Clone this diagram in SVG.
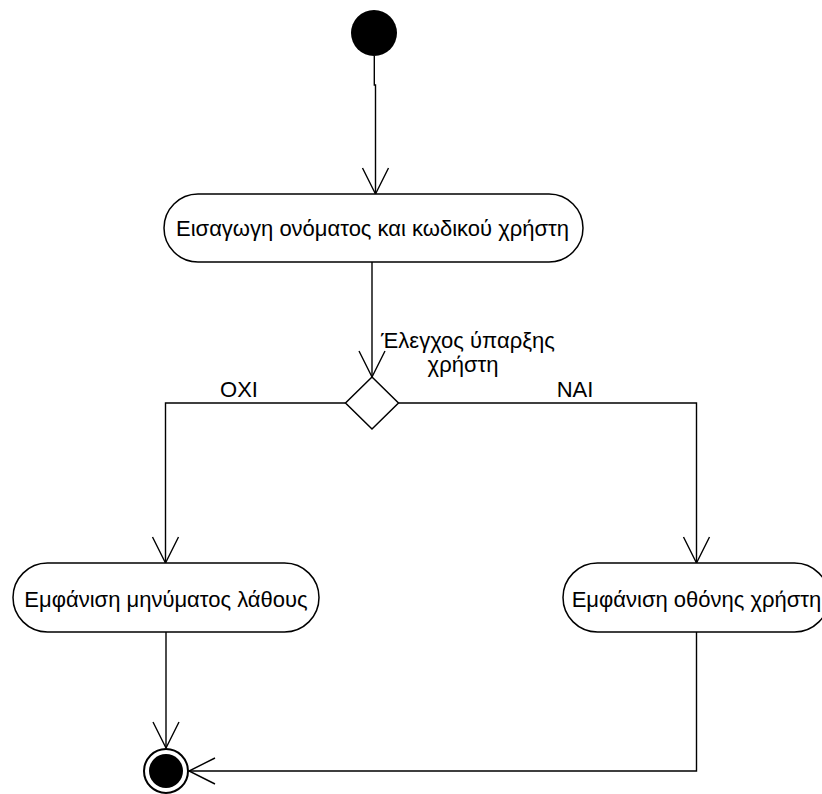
<svg xmlns="http://www.w3.org/2000/svg" width="822" height="794" viewBox="0 0 822 794">
  <style>
    .bg { fill: #ffffff; }
    .action { fill: #ffffff; stroke: #000000; stroke-width: 1.5; }
    .label { font-family: "Liberation Sans", Arial, sans-serif; font-size: 22px; fill: #000000; }
    .mid { text-anchor: middle; }
    .flow { fill: none; stroke: #000000; stroke-width: 1.4; }
    .decision { fill: #ffffff; stroke: #000000; stroke-width: 1.5; }
  </style>
  <defs>
    <marker id="open-arrow" markerUnits="userSpaceOnUse" markerWidth="40" markerHeight="40" viewBox="-30 -20 40 40" refX="0" refY="0" orient="auto">
      <path d="M -26 -13 L 0 0 L -26 13" fill="none" stroke="#000000" stroke-width="1.4"/>
    </marker>
  </defs>

  <rect class="bg" x="0" y="0" width="822" height="794"/>

  <!-- connectors -->
  <g id="connectors">
    <path class="flow" d="M 374.3 56 L 374.3 85 L 375.5 85 L 375.5 194" marker-end="url(#open-arrow)"/>
    <path class="flow" d="M 372 262 L 372 377" marker-end="url(#open-arrow)"/>
    <path class="flow" d="M 345.5 403 L 165.5 403 L 165.5 563" marker-end="url(#open-arrow)"/>
    <path class="flow" d="M 398.5 403 L 696.5 403 L 696.5 563" marker-end="url(#open-arrow)"/>
    <path class="flow" d="M 166 632 L 166 748" marker-end="url(#open-arrow)"/>
    <path class="flow" d="M 696.5 632 L 696.5 771 L 189 771" marker-end="url(#open-arrow)"/>
    <text class="label mid" x="239" y="397">ΟΧΙ</text>
    <text class="label mid" x="575" y="397">ΝΑΙ</text>
  </g>

  <!-- initial state -->
  <g id="start">
    <circle cx="374" cy="33" r="23" fill="#000000"/>
  </g>

  <!-- action: enter user name and password -->
  <g id="enter-credentials">
    <rect class="action" x="164" y="194" width="419" height="68" rx="34" ry="34"/>
    <text class="label mid" x="372.5" y="236">Εισαγωγη ονόματος και κωδικού χρήστη</text>
  </g>

  <!-- decision: does the user exist -->
  <g id="check-user">
    <polygon class="decision" points="372,377 398.5,403 372,429 345.5,403"/>
    <text class="label mid" x="468" y="348">Έλεγχος ύπαρξης</text>
    <text class="label mid" x="463" y="372">χρήστη</text>
  </g>

  <!-- action: show error message -->
  <g id="show-error">
    <rect class="action" x="13" y="563" width="306" height="69" rx="34.5" ry="34.5"/>
    <text class="label mid" x="166" y="607">Εμφάνιση μηνύματος λάθους</text>
  </g>

  <!-- action: show user screen -->
  <g id="show-user-screen">
    <rect class="action" x="563" y="563" width="266" height="69" rx="34.5" ry="34.5"/>
    <text class="label mid" x="696.5" y="607">Εμφάνιση οθόνης χρήστη</text>
  </g>

  <!-- final state -->
  <g id="end">
    <circle cx="166" cy="771" r="22" fill="#ffffff" stroke="#000000" stroke-width="2"/>
    <circle cx="166" cy="771" r="17" fill="#000000"/>
  </g>
</svg>
